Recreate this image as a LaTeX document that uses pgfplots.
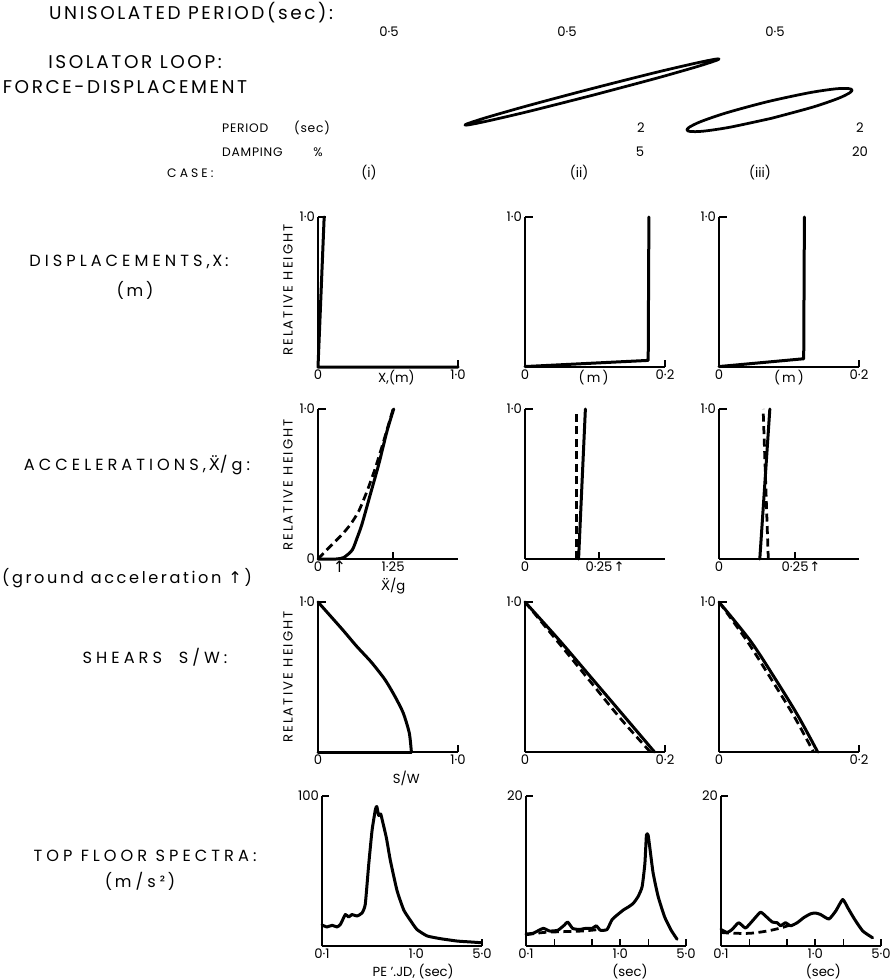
\documentclass[border=0pt]{standalone}
\usepackage{fontspec}
\setmainfont{Poppins}
\newfontfamily\sym{DejaVu Sans}
\usepackage{pgfplots}
\pgfplotsset{compat=1.18}
\newcommand\ttl{\fontsize{10.5}{12}\selectfont\addfontfeatures{LetterSpace=14}}
\newcommand\lb{\fontsize{9.2}{11}\selectfont\addfontfeatures{LetterSpace=25}}
\newcommand\lbn{\fontsize{9.2}{11}\selectfont\addfontfeatures{LetterSpace=16}}
\newcommand\sm{\fontsize{7}{8}\selectfont\addfontfeatures{LetterSpace=6}}
\newcommand\tk{\fontsize{7.5}{8.5}\selectfont}
\newcommand\up{{\sym ↑}}
\newcommand\Xdd{{\sym Ẍ}}
\tikzset{
 ar/.style={font=\tk, anchor=north, inner sep=1.5pt},
 sub/.style={font=\tk, anchor=north, yshift=-7.5pt},
}
\pgfplotsset{
 panel/.style={scale only axis, width=28mm, height=30mm, axis lines=left,
   axis line style={-, line width=0.3mm}, tick align=inside, major tick length=1.5mm,
   tick style={black, line width=0.3mm}, ticklabel style={font=\tk, inner sep=1.5pt},
   xmin=0, ymin=0, ymax=1, clip=false, anchor=south west, ytick={1}, yticklabels={1·0}},
 spec/.style={panel, width=32mm, xmin=0.1, xmax=5},
 sl/.style={black, line width=0.6mm, line join=round, line cap=round},
 dl/.style={black, line width=0.55mm, dash pattern=on 1.6mm off 0.9mm},
}
\begin{document}
\begin{tikzpicture}
\useasboundingbox (0,0) rectangle (178mm,-196mm);
% ---------- header ----------
\node[anchor=west,font=\ttl] at (8.6mm,-2.6mm) {UNISOLATED PERIOD(sec):};
\foreach \x in {77.8,113.4,155} \node[font=\tk] at (\x mm,-6.4mm) {0·5};
\node[font=\ttl] at (27mm,-12.4mm) {ISOLATOR LOOP:};
\node[font=\ttl] at (25mm,-17.4mm) {FORCE-DISPLACEMENT};
\node[anchor=west,font=\sm] at (43.2mm,-25.6mm) {PERIOD};
\node[anchor=west,font=\sm] at (57.6mm,-25.6mm) {(sec)};
\node[font=\tk] at (128.2mm,-25.6mm) {2};
\node[font=\tk] at (172mm,-25.6mm) {2};
\node[anchor=west,font=\sm] at (43.2mm,-30.4mm) {DAMPING};
\node[font=\sm] at (63.6mm,-30.4mm) {\%};
\node[font=\tk] at (128mm,-30.4mm) {5};
\node[font=\tk] at (172mm,-30.4mm) {20};
\node[anchor=west,font=\sm\addfontfeatures{LetterSpace=25}] at (32.2mm,-34.6mm) {CASE:};
\node[font=\tk] at (73.8mm,-34.6mm) {(i)};
\node[font=\tk] at (115.8mm,-34.6mm) {(ii)};
\node[font=\tk] at (152mm,-34.6mm) {(iii)};
% ---------- row labels ----------
\node[font=\lb] at (25.8mm,-52.4mm) {DISPLACEMENTS,\,X\,:};
\node[font=\lb] at (27mm,-58mm) {(\,m\,)};
\node[font=\lb] at (27.4mm,-93mm) {ACCELERATIONS,\,\Xdd/g:};
\node[font=\lbn] at (25.4mm,-115.6mm) {(ground acceleration \up\,)};
\node[font=\lb] at (31mm,-131.4mm) {SHEARS\ \ S/W:};
\node[font=\lb] at (29mm,-171.2mm) {TOP FLOOR SPECTRA:};
\node[font=\lb] at (28mm,-176.2mm) {(\,m/s²\,)};
\foreach \y in {58,97,135.4}
  \node[font=\fontsize{7.5}{8}\selectfont\addfontfeatures{LetterSpace=16},rotate=90] at (57.6mm,-\y mm) {RELATIVE HEIGHT};
% ---------- isolator loops ----------
\begin{axis}[at={(0mm,0mm)}, anchor=north west, scale only axis, width=178mm, height=196mm,
  xmin=0, xmax=890, ymin=0, ymax=980, y dir=reverse, hide axis, clip=false]
\addplot[sl, line width=0.55mm, smooth] coordinates {(592.8,95.2) (529.2,111.3) (488.5,120.8) (469.5,124.7) (465,125) (469.1,123.1) (487.5,117.2) (527.8,105.7) (591.2,88.8) (654.8,72.7) (695.5,63.2) (714.5,59.3) (719,59) (714.9,60.9) (696.5,66.8) (656.2,78.3) (592.8,95.2)};
\addplot[sl, line width=0.55mm, smooth] coordinates {(771.5,118.3) (730.0,127.2) (703.1,131.2) (690.3,131.5) (687,130) (689.3,127.2) (700.8,121.6) (726.5,112.8) (767.5,101.7) (809.0,92.8) (836.0,88.8) (848.7,88.6) (852,90) (849.7,92.8) (838.2,98.4) (812.5,107.2) (771.5,118.3)};
\end{axis}
% ---------- row 1: displacements ----------
\begin{axis}[panel, at={(63.6mm,-73.4mm)}, xmax=1, xtick={0,1}, xticklabels={0,1·0}]
\addplot[sl] coordinates {(1,0) (0,0) (0.044,1)};
\node[ar] at (rel axis cs:0.56,0) {X,(m)};
\end{axis}
\begin{axis}[panel, at={(105mm,-73.4mm)}, xmax=0.2, xtick={0,0.2}, xticklabels={0,0·2}]
\addplot[sl] coordinates {(0,0.003) (0.176,0.044) (0.177,1)};
\node[ar] at (rel axis cs:0.49,0) {(\,m\,)};
\end{axis}
\begin{axis}[panel, at={(143.8mm,-73.4mm)}, xmax=0.2, xtick={0,0.2}, xticklabels={0,0·2}]
\addplot[sl] coordinates {(0,0.003) (0.121,0.055) (0.122,1)};
\node[ar] at (rel axis cs:0.5,0) {(\,m\,)};
\end{axis}
% ---------- row 2: accelerations ----------
\begin{axis}[panel, at={(63.6mm,-111.8mm)}, xmax=2.33, xtick={0,1.25}, xticklabels={0,1·25}, ytick={0,1}, yticklabels={0,1·0}]
\addplot[sl, smooth, tension=0.4] coordinates {(0,0) (0.3,0) (0.43,0.01) (0.57,0.06) (0.65,0.14) (0.73,0.23) (0.87,0.43) (1.01,0.63) (1.15,0.855) (1.26,1.0)};
\addplot[dl, smooth, tension=0.4] coordinates {(0,0) (0.122,0.051) (0.233,0.096) (0.4,0.163) (0.539,0.23) (0.678,0.319) (0.817,0.453) (0.956,0.609) (1.094,0.788) (1.25,1.0)};
\node[font=\fontsize{9}{10}\selectfont, anchor=north, inner sep=1pt] at (axis cs:0.356,0) {\up};
\node[sub] at (axis cs:1.25,0) {\Xdd/g};
\end{axis}
\begin{axis}[panel, at={(105mm,-111.8mm)}, xmax=0.473, xtick={0,0.25}, xticklabels={0,0·25}]
\addplot[sl] coordinates {(0.181,0) (0.204,1)};
\addplot[dl] coordinates {(0.174,0) (0.174,1)};
\node[ar] at (axis cs:0.318,0) {\up};
\end{axis}
\begin{axis}[panel, at={(143.8mm,-111.8mm)}, xmax=0.46, xtick={0,0.25}, xticklabels={0,0·25}]
\addplot[sl] coordinates {(0.134,0) (0.167,1)};
\addplot[dl] coordinates {(0.162,0) (0.145,1)};
\node[ar] at (axis cs:0.315,0) {\up};
\end{axis}
% ---------- row 3: shears ----------
\begin{axis}[panel, at={(63.6mm,-150.4mm)}, xmax=1, xtick={0,1}, xticklabels={0,1·0}]
\addplot[sl, smooth, tension=0.4] coordinates {(0,1) (0.174,0.817) (0.275,0.706) (0.38,0.6) (0.478,0.483) (0.55,0.37) (0.609,0.26) (0.652,0.127) (0.667,0)};
\addplot[sl] coordinates {(0.667,0) (0,0)};
\node[sub] at (rel axis cs:0.63,0) {S/W};
\end{axis}
\begin{axis}[panel, at={(105mm,-150.4mm)}, xmax=0.2, xtick={0,0.2}, xticklabels={0,0·2}]
\addplot[sl, smooth] coordinates {(0,1) (0.05,0.74) (0.097,0.483) (0.145,0.22) (0.185,0)};
\addplot[dl, smooth] coordinates {(0,1) (0.046,0.74) (0.091,0.483) (0.137,0.22) (0.179,0)};
\end{axis}
\begin{axis}[panel, at={(143.8mm,-150.4mm)}, xmax=0.2, xtick={0,0.2}, xticklabels={0,0·2}]
\addplot[sl, smooth] coordinates {(0,1) (0.045,0.74) (0.081,0.483) (0.113,0.24) (0.141,0)};
\addplot[dl, smooth] coordinates {(0,1) (0.04,0.74) (0.075,0.483) (0.107,0.24) (0.135,0)};
\end{axis}
% ---------- row 4: spectra ----------
\begin{semilogxaxis}[spec, at={(64.4mm,-189.2mm)}, ymax=100, ytick={100}, yticklabels={100},
  xtick={0.1,5}, xticklabels={0·1,5·0}, extra x ticks={1}, extra x tick labels={1·0},
  extra x tick style={major tick length=0pt}]
\addplot[sl, smooth, tension=0.3] coordinates {(0.1,14) (0.113,12.7) (0.128,13.8) (0.144,12.7) (0.157,14.4) (0.177,21) (0.192,19.3) (0.208,21) (0.235,20) (0.266,22) (0.288,27.8) (0.313,54) (0.34,77) (0.369,91) (0.382,93) (0.4,87) (0.42,88) (0.44,83) (0.483,72) (0.532,57) (0.626,37) (0.738,24) (0.87,17) (1.02,11) (1.31,6.7) (1.81,4.9) (2.73,3.3) (3.77,2.7) (4.9,2.2)};
\node[sub, yshift=0.5pt] at (rel axis cs:0.57,0) {PE ’.JD, (sec)};
\end{semilogxaxis}
\begin{semilogxaxis}[spec, at={(105.2mm,-189.2mm)}, ymax=20, ytick={20}, yticklabels={20},
  xtick={0.1,0.2,0.5,1,2,5}, xticklabels={0·1,,,1·0,,5·0}]
\addplot[sl, smooth, tension=0.3] coordinates {(0.1,1.6) (0.119,1.7) (0.152,2.35) (0.178,2.0) (0.218,2.1) (0.256,2.8) (0.277,3.2) (0.313,2.35) (0.367,2.2) (0.43,2.35) (0.506,2.35) (0.557,2.7) (0.617,2.1) (0.725,2.2) (0.818,3.5) (0.922,4.1) (1.08,4.8) (1.22,5.2) (1.38,5.7) (1.55,6.6) (1.71,7.9) (1.83,11) (1.9,14.8) (1.98,14.8) (2.06,13.2) (2.24,9.7) (2.53,6.6) (2.96,3.9) (3.48,2.1) (4.02,0.9)};
\addplot[dl, smooth] coordinates {(0.1,1.5) (0.152,1.8) (0.227,1.9) (0.397,2.0) (0.594,2.2)};
\node[sub, yshift=0.5pt] at (rel axis cs:0.65,0) {(sec)};
\end{semilogxaxis}
\begin{semilogxaxis}[spec, at={(144.2mm,-189.2mm)}, ymax=20, ytick={20}, yticklabels={20},
  xtick={0.1,0.2,0.5,1,2,5}, xticklabels={0·1,,,1·0,,5·0}]
\addplot[sl, smooth, tension=0.3] coordinates {(0.1,2.2) (0.116,1.8) (0.131,2.2) (0.154,3.1) (0.182,2.4) (0.214,3.3) (0.262,4.5) (0.297,4.0) (0.35,3.2) (0.396,3.1) (0.429,2.7) (0.484,3.1) (0.549,2.7) (0.644,3.1) (0.76,3.8) (0.896,4.3) (1.01,4.4) (1.14,4.2) (1.4,3.6) (1.66,4.7) (1.96,6.2) (2.22,5.1) (2.61,3.6) (3.2,2.0) (4.07,1.1)};
\addplot[dl, smooth] coordinates {(0.1,1.8) (0.136,1.7) (0.206,1.7) (0.31,2.0) (0.429,2.4) (0.527,2.75)};
\node[sub, yshift=0.5pt] at (rel axis cs:0.64,0) {(sec)};
\end{semilogxaxis}
\end{tikzpicture}
\end{document}
